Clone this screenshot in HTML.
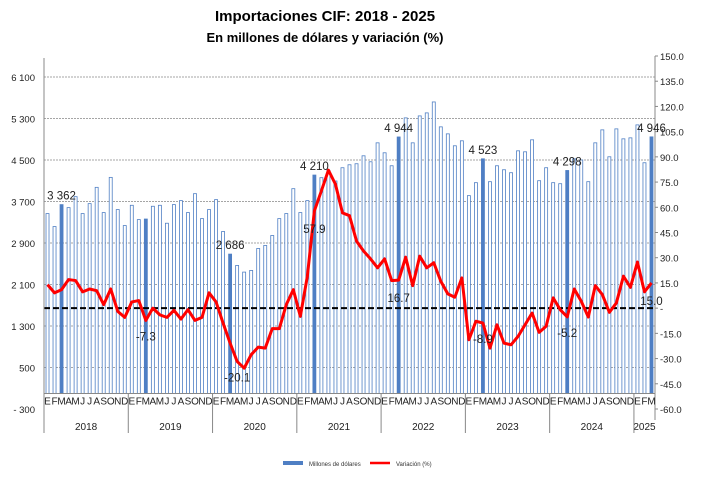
<!DOCTYPE html>
<html><head><meta charset="utf-8"><style>
body{margin:0;background:#fff;}
svg{display:block;font-family:"Liberation Sans",sans-serif;}
</style></head><body>
<svg id="chart" width="727" height="480">
<text x="325" y="21" text-anchor="middle" font-size="15" font-weight="bold">Importaciones CIF: 2018 - 2025</text>
<text x="325" y="42" text-anchor="middle" font-size="13" font-weight="bold">En millones de dólares y variación (%)</text>
<g id="grid"></g><g id="bars"></g><g id="line"></g><g id="axes"></g><g id="labels"></g>
<g>
<rect x="283" y="461" width="20" height="4" fill="#4f7fc4"/>
<text x="309" y="466" font-size="6" fill="#333">Millones de dólares</text>
<line x1="370" y1="463" x2="390" y2="463" stroke="#f00" stroke-width="2.5"/>
<text x="396" y="466" font-size="6" fill="#333">Variación (%)</text>
</g>
</svg>
<script>
const years=["2018","2019","2020","2021","2022","2023","2024","2025"];
const monthLetters=["E","F","M","A","M","J","J","A","S","O","N","D"];
const imports=[3467,3217,3640,3582,3793,3467,3659,3973,3486,4165,3544,3236,
3627,3351,3362,3608,3627,3281,3640,3717,3486,3851,3370,3544,
3736,3121,2686,2467,2339,2371,2794,2852,3044,3370,3467,3947,
3486,3717,4210,4159,4300,4095,4351,4408,4428,4581,4466,4831,
4639,4389,4944,5312,4831,5350,5408,5619,5139,5004,4774,4870,
3813,4063,4523,4082,4389,4312,4255,4677,4658,4889,4101,4351,
4063,4043,4298,4523,4500,4082,4831,5081,4562,5100,4908,4927,
5177,4447,4946];
const variation=[14.0,9.1,11,17,16.4,9.7,11.4,10.4,2.1,11.4,-1.9,-5.5,
3.7,4.5,-7.3,0,-4,-5.5,-1.3,-6.5,-0.9,-7.3,-5.5,9.1,
3.7,-8.9,-20.8,-31.7,-35.7,-27.7,-23.2,-23.8,-12.2,-12.2,2.1,11,
-4.9,19,57.9,69.8,82.1,73.7,56.7,55,39.9,34,29.3,24,
29.3,16.4,16.7,30.3,13.4,30.9,24,27,16,8.5,6.5,18,
-18.8,-7.8,-8.9,-23.8,-9.9,-20.8,-21.8,-16.8,-9.9,-2.9,-14.4,-10.8,
6.1,-0.9,-5.2,11.4,4.1,-5.3,13.4,8.1,-2.5,3.1,19,12.4,
27.4,9.7,15.0];
const leftTicks=[-300,500,1300,2100,2900,3700,4500,5300,6100];
const leftTickLabels=["-  300","500","1 300","2 100","2 900","3 700","4 500","5 300","6 100"];
const rightTicks=[-60,-45,-30,-15,0,15,30,45,60,75,90,105,120,135,150];
const rightTickLabels=["-60.0","-45.0","-30.0","-15.0","-","15.0","30.0","45.0","60.0","75.0","90.0","105.0","120.0","135.0","150.0"];
const barLabels={2:"3 362",26:"2 686",38:"4 210",50:"4 944",62:"4 523",74:"4 298",86:"4 946"};
const lineLabels={14:"-7.3",27:"-20.1",38:"57.9",50:"16.7",62:"-8.9",74:"-5.2",86:"15.0"};

const NS="http://www.w3.org/2000/svg";
const X0=44,X1=655,N=imports.length,slot=(X1-X0)/N;
const yL=v=>77+(6100-v)*(409-77)/6400;
const yR=v=>56+(150-v)*(409-56)/210;
const xC=i=>X0+(i+0.5)*slot;
function mk(tag,attrs,parent,txt){const e=document.createElementNS(NS,tag);for(const k in attrs)e.setAttribute(k,attrs[k]);if(txt!=null)e.textContent=txt;document.getElementById(parent).appendChild(e);return e;}
// grid + left ticks
leftTicks.forEach((t,i)=>{
 if(t>-300){const g=mk('line',{x1:X0,x2:X1,y1:yL(t),y2:yL(t),stroke:'#888','stroke-width':0.8,'stroke-dasharray':'2,1'},'grid');
 
 }
 const l=mk('text',{x:35,y:yL(t)+4,'text-anchor':'end','font-size':9.5,fill:'#222'},'axes',leftTickLabels[i]);
 
 
});
rightTicks.forEach((t,i)=>{
 const l=mk('text',{x:660,y:yR(t)+4,'font-size':9.5,fill:'#222'},'axes',rightTickLabels[i]);
 
 
 const tk=mk('line',{x1:655,x2:658,y1:yR(t),y2:yR(t),stroke:'#888'},'axes');
 
 
});
// bars
const base=yL(0);
imports.forEach((v,i)=>{
 const filled=(i%12===2);
 const b=mk('rect',{x:xC(i)-1.5,y:yL(v),width:3,height:base-yL(v),fill:filled?'#4f7fc4':'#fff',stroke:'#4f7fc4','stroke-width':0.8},'bars');
 
 
});
// zero dashed
const z=mk('line',{x1:X0,x2:X1,y1:yR(0),y2:yR(0),stroke:'#000','stroke-width':2,'stroke-dasharray':'6,3'},'line');


const p=mk('polyline',{points:variation.map((v,i)=>xC(i)+','+yR(v)).join(' '),fill:'none',stroke:'#f00','stroke-width':3,'stroke-linejoin':'round'},'line');


// axes lines
[[X0,58,X0,433],[X1,56,X1,420],[X0,base,X1,base]].forEach(a=>{
 const l=mk('line',{x1:a[0],y1:a[1],x2:a[2],y2:a[3],stroke:'#888','stroke-width':1},'axes');
 
 
});
imports.forEach((v,i)=>{
 const t=mk('text',{x:xC(i),y:base+11,'text-anchor':'middle','font-size':10,fill:'#222'},'axes',monthLetters[i%12]);
 
 
});
years.forEach((y,k)=>{
 const s=k*12,e=Math.min(N,s+12);
 const xs=X0+s*slot,xe=X0+e*slot;
 const t=mk('text',{x:(xs+xe)/2,y:430,'text-anchor':'middle','font-size':10,fill:'#222'},'axes',y);
 
 
 if(k>0){const l=mk('line',{x1:xs,x2:xs,y1:base,y2:433,stroke:'#888'},'axes');
 
 }
});
for(const i in barLabels){
 const t=mk('text',{x:xC(+i),y:yL(imports[i])-5,'text-anchor':'middle','font-size':11.5,fill:'#222'},'labels',barLabels[i]);
 
 
}
for(const i in lineLabels){
 const v=variation[i];
 const t=mk('text',{x:xC(+i),y:(v>0?yR(v)+22:yR(v)+20),'text-anchor':'middle','font-size':11.5,fill:'#222'},'labels',lineLabels[i]);
 
 
}
</script>
</body></html>
